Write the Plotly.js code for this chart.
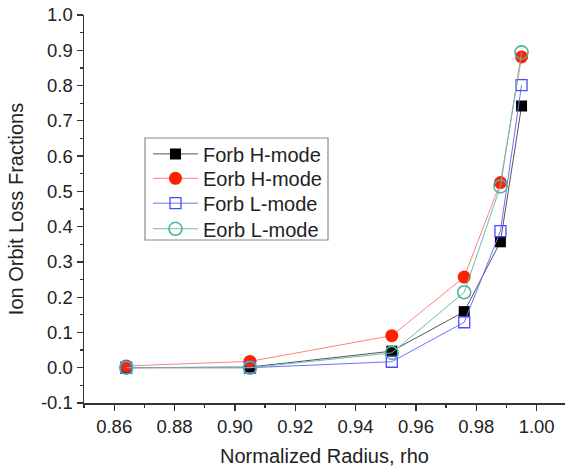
<!DOCTYPE html>
<html>
<head>
<meta charset="utf-8">
<script src="https://cdn.plot.ly/plotly-3.0.1.min.js"></script>
<style>
  html, body { margin: 0; padding: 0; background: #fff; }
  #chart { width: 565px; height: 468px; }
</style>
</head>
<body>
<div id="chart"></div>
<script>
// Normalized radius positions of the computed points
const rho = [0.864, 0.905, 0.952, 0.976, 0.988, 0.995];

// Ion orbit loss fractions per model / confinement mode
const forbH = [0.000, 0.002, 0.047, 0.159, 0.357, 0.742];
const eorbH = [0.005, 0.018, 0.091, 0.257, 0.525, 0.881];
const forbL = [0.000, 0.000, 0.017, 0.129, 0.387, 0.801];
const eorbL = [0.000, 0.000, 0.042, 0.214, 0.514, 0.894];

const seriesNames = ['Forb H-mode', 'Eorb H-mode', 'Forb L-mode', 'Eorb L-mode'];

// Y tick labels (plain hyphen for the negative value)
const yTickVals = [-0.1, 0.0, 0.1, 0.2, 0.3, 0.4, 0.5, 0.6, 0.7, 0.8, 0.9, 1.0];
const yTickText = ['-0.1', '0.0', '0.1', '0.2', '0.3', '0.4', '0.5', '0.6', '0.7', '0.8', '0.9', '1.0'];

const FONT = 'Liberation Sans, Arial, sans-serif';

const traces = [
  {
    x: rho, y: forbH, name: seriesNames[0], legend: 'legend',
    mode: 'lines+markers',
    line: { color: '#555555', width: 1 },
    marker: { symbol: 'square', size: 11, color: '#000000', line: { width: 0 } }
  },
  {
    x: rho, y: eorbH, name: seriesNames[1], legend: 'legend2',
    mode: 'lines+markers',
    line: { color: '#ff8080', width: 1 },
    marker: { symbol: 'circle', size: 13, color: '#ff2200', line: { width: 0 } }
  },
  {
    x: rho, y: forbL, name: seriesNames[2], legend: 'legend3',
    mode: 'lines+markers',
    line: { color: '#6f6fff', width: 1 },
    marker: { symbol: 'square-open', size: 11, color: '#4a4aff', line: { width: 1.3 } }
  },
  {
    x: rho, y: eorbL, name: seriesNames[3], legend: 'legend4',
    mode: 'lines+markers',
    line: { color: '#66bfb0', width: 1 },
    marker: { symbol: 'circle-open', size: 13, color: '#4fb3a3', line: { width: 1.6 } }
  }
];

// one legend row per series so the row pitch can follow the boxed key
function legendRow(yPaper) {
  return {
    x: 0.133, y: yPaper, xanchor: 'left', yanchor: 'middle',
    bgcolor: 'rgba(0,0,0,0)', borderwidth: 0,
    font: { family: FONT, size: 20, color: '#222222' },
    itemwidth: 45
  };
}

const layout = {
  width: 565, height: 468,
  margin: { l: 84, r: 0, t: 15, b: 65 },
  paper_bgcolor: '#ffffff', plot_bgcolor: '#ffffff',
  font: { family: FONT, color: '#222222' },
  showlegend: true,
  legend: legendRow(0.642),
  legend2: legendRow(0.579),
  legend3: legendRow(0.515),
  legend4: legendRow(0.449),
  xaxis: {
    range: [0.85, 1.0094],
    showgrid: false, zeroline: false,
    showline: true, linecolor: '#333333', linewidth: 1.5,
    ticks: 'outside', ticklen: 6, tickwidth: 1.3, tickcolor: '#333333',
    dtick: 0.02, tick0: 0.86, tickformat: '.2f',
    minor: { ticks: 'outside', ticklen: 3, tickwidth: 1.3, tickcolor: '#333333', dtick: 0.01 },
    tickfont: { family: FONT, size: 18.5, color: '#222222' },
    title: { text: 'Normalized Radius, rho', font: { family: FONT, size: 20, color: '#222222' }, standoff: 13 }
  },
  yaxis: {
    range: [-0.1, 1.0],
    showgrid: false, zeroline: false,
    showline: true, linecolor: '#333333', linewidth: 1.5,
    ticks: 'outside', ticklen: 6, tickwidth: 1.3, tickcolor: '#333333',
    tickvals: yTickVals, ticktext: yTickText,
    minor: { ticks: 'outside', ticklen: 3, tickwidth: 1.3, tickcolor: '#333333', dtick: 0.05, tick0: -0.1 },
    tickfont: { family: FONT, size: 18.5, color: '#222222' },
    title: { text: 'Ion Orbit Loss Fractions', font: { family: FONT, size: 20, color: '#222222' }, standoff: 12 }
  },
  shapes: [
    {
      type: 'rect', xref: 'paper', yref: 'paper',
      x0: 0.1268, x1: 0.5073, y0: 0.4201, y1: 0.683,
      line: { color: '#8a8a8a', width: 1.2 }, fillcolor: 'rgba(0,0,0,0)'
    }
  ]
};

Plotly.newPlot('chart', traces, layout, { displayModeBar: false, staticPlot: true });
</script>
</body>
</html>
